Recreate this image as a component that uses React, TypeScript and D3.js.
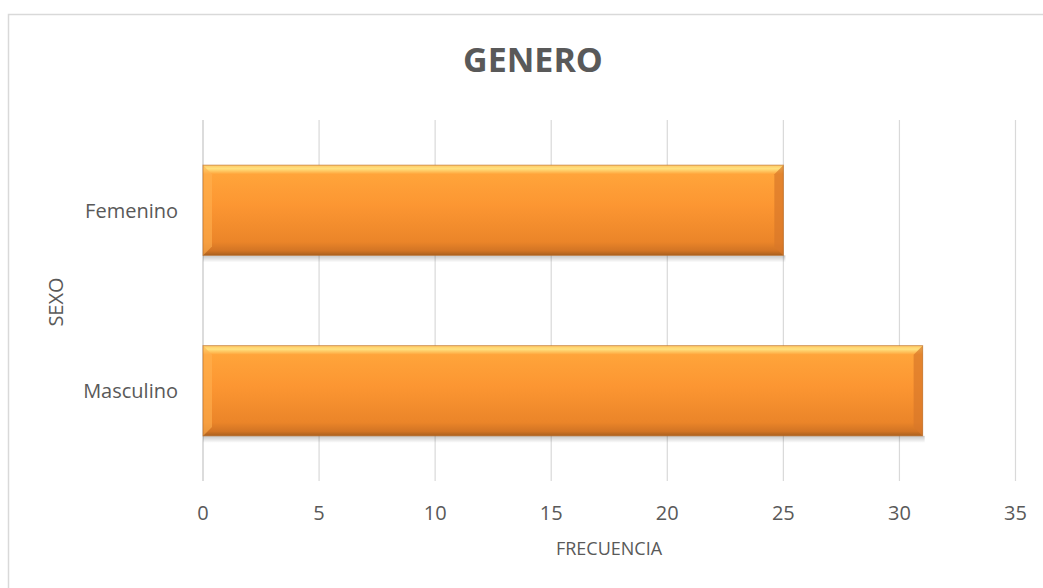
import * as d3 from "d3";

const categories = ["Femenino", "Masculino"];
const values = [25, 31];
const xTicks = [0, 5, 10, 15, 20, 25, 30, 35];
const title = "GENERO";
const xTitle = "FRECUENCIA";
const yTitle = "SEXO";

const W = 1043;
const H = 588;
const FONT = "'Open Sans', 'Noto Sans', sans-serif";

export default function App() {
  const x = d3.scaleLinear().domain([0, 35]).range([203, 1015.5]);
  const y = d3
    .scaleBand<string>()
    .domain(categories)
    .range([120, 481])
    .paddingInner(0.5)
    .paddingOuter(0.25);
  const bw = y.bandwidth();
  const bev = 9;

  return (
    <svg
      width={W}
      height={H}
      style={{ position: "absolute", left: 0, top: 0 }}
      fontFamily={FONT}
    >
      <defs>
        <linearGradient id="barFill" x1="0" y1="0" x2="0" y2="1">
          <stop offset="0" stopColor="#ffc864" />
          <stop offset="0.04" stopColor="#ffe17f" />
          <stop offset="0.1" stopColor="#ffa43a" />
          <stop offset="0.45" stopColor="#fc9632" />
          <stop offset="0.85" stopColor="#eb8529" />
          <stop offset="0.95" stopColor="#d27424" />
          <stop offset="1" stopColor="#a9601f" />
        </linearGradient>
        <linearGradient id="shadow" x1="0" y1="0" x2="0" y2="1">
          <stop offset="0" stopColor="#000" stopOpacity="0.22" />
          <stop offset="1" stopColor="#000" stopOpacity="0" />
        </linearGradient>
      </defs>
      <rect x={0} y={0} width={W} height={H} fill="#fff" />
      <rect x={8.5} y={14.5} width={W + 10} height={H + 10} fill="#fff" stroke="#d9d9d9" strokeWidth={1.5} />

      <text x={533} y={72} textAnchor="middle" fontSize={34} fontWeight="bold" fill="#595959">
        {title}
      </text>

      {xTicks.map((t) => (
        <g key={t}>
          {t > 0 && (
            <line x1={x(t)} x2={x(t)} y1={120} y2={481} stroke="#d9d9d9" strokeWidth={1.2} />
          )}
          <text x={x(t)} y={520} textAnchor="middle" fontSize={20} fill="#595959">
            {t}
          </text>
        </g>
      ))}
      <line x1={x(0)} x2={x(0)} y1={120} y2={481} stroke="#d0d0d0" strokeWidth={1.5} />

      {categories.map((c, i) => {
        const y0 = y(c)!;
        const x0 = x(0);
        const x1 = x(values[i]);
        return (
          <g key={c}>
            <rect x={x0} y={y0 + bw} width={x1 - x0 + 2} height={7} fill="url(#shadow)" />
            <rect x={x0} y={y0} width={x1 - x0} height={bw} fill="url(#barFill)" />
            <polygon
              points={`${x0},${y0} ${x0 + bev},${y0 + bev} ${x0 + bev},${y0 + bw - bev} ${x0},${y0 + bw}`}
              fill="#ffb050"
              opacity={0.6}
            />
            <polygon
              points={`${x1},${y0} ${x1 - bev},${y0 + bev} ${x1 - bev},${y0 + bw - bev} ${x1},${y0 + bw}`}
              fill="#d9772a"
              opacity={0.7}
            />
            <rect
              x={x0}
              y={y0}
              width={x1 - x0}
              height={bw}
              fill="none"
              stroke="#b8681f"
              strokeOpacity={0.6}
              strokeWidth={1}
            />
            <text
              x={178}
              y={y0 + bw / 2}
              textAnchor="end"
              dominantBaseline="central"
              fontSize={20}
              fill="#595959"
            >
              {c}
            </text>
          </g>
        );
      })}

      <text x={609} y={555} textAnchor="middle" fontSize={18} fill="#595959">
        {xTitle}
      </text>
      <text
        transform={`translate(63,302) rotate(-90)`}
        textAnchor="middle"
        fontSize={20}
        fill="#595959"
      >
        {yTitle}
      </text>
    </svg>
  );
}
